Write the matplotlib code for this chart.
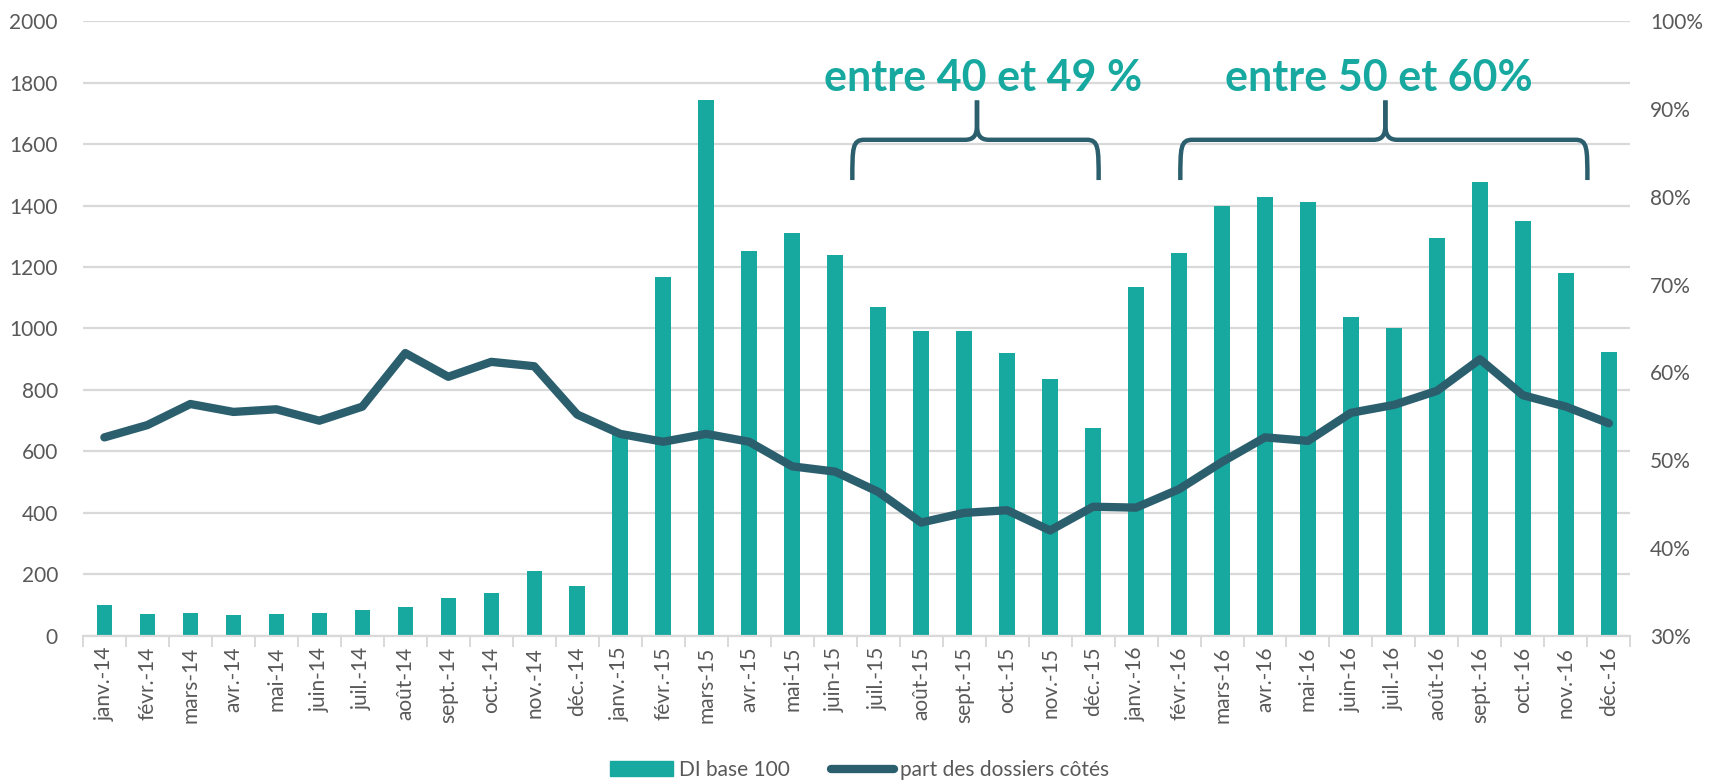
import matplotlib

matplotlib.use("Agg")
import matplotlib.pyplot as plt
from matplotlib.path import Path
from matplotlib.patches import PathPatch
from matplotlib.lines import Line2D
from matplotlib.ticker import FuncFormatter


# Month labels (janv.-14 .. déc.-16)
MONTHS = [
    "janv.-14", "févr.-14", "mars-14", "avr.-14", "mai-14", "juin-14",
    "juil.-14", "août-14", "sept.-14", "oct.-14", "nov.-14", "déc.-14",
    "janv.-15", "févr.-15", "mars-15", "avr.-15", "mai-15", "juin-15",
    "juil.-15", "août-15", "sept.-15", "oct.-15", "nov.-15", "déc.-15",
    "janv.-16", "févr.-16", "mars-16", "avr.-16", "mai-16", "juin-16",
    "juil.-16", "août-16", "sept.-16", "oct.-16", "nov.-16", "déc.-16",
]

# DI base 100 (left axis)
DI_BASE_100 = [
    100, 70, 74, 67, 71, 74, 83, 93, 122, 138, 212, 162,
    660, 1168, 1742, 1253, 1310, 1239, 1069, 991, 991, 920, 835, 676,
    1136, 1246, 1398, 1427, 1412, 1036, 1001, 1296, 1476, 1349, 1179, 924,
]

# part des dossiers côtés, in % (right axis)
PART_COTES = [
    52.6, 54.0, 56.4, 55.5, 55.8, 54.5, 56.1, 62.2, 59.5, 61.2, 60.7, 55.2,
    53.0, 52.1, 53.0, 52.1, 49.3, 48.7, 46.4, 42.9, 44.0, 44.3, 42.0, 44.7,
    44.6, 46.7, 49.8, 52.6, 52.2, 55.4, 56.3, 57.9, 61.5, 57.4, 56.1, 54.2,
]

BAR_LABEL = "DI base 100"
LINE_LABEL = "part des dossiers côtés"
BRACE_TEXTS = ["entre 40 et 49 %", "entre 50 et 60%"]

TEAL = "#17A9A0"
DARK = "#2B5F6E"
GRID = "#D9D9D9"
TEXT = "#595959"

plt.rcParams["font.family"] = ["Lato", "DejaVu Sans"]


def draw_brace(ax, x0, x1, xm, y_leg, y_top, y_tip):
    """Curly brace opening downward, tip pointing up at xm."""
    dx = 0.28
    dy = (y_top - y_leg) * 0.25
    for side in (-1, 1):
        xe = x0 if side == -1 else x1
        s = 1 if side == -1 else -1
        verts = [
            (xe, y_leg),
            (xe, y_leg + (y_top - y_leg) * 0.8),
            (xe, y_top),
            (xe + s * dx, y_top),
            (xm - s * dx, y_top),
            (xm - s * 0.05, y_top),
            (xm, y_top + dy * 0.6),
            (xm, y_top + dy * 1.5),
            (xm, y_tip),
        ]
        codes = [
            Path.MOVETO,
            Path.CURVE4, Path.CURVE4, Path.CURVE4,
            Path.LINETO,
            Path.CURVE4, Path.CURVE4, Path.CURVE4,
            Path.LINETO,
        ]
        ax.add_patch(PathPatch(Path(verts, codes), facecolor="none",
                               edgecolor=DARK, linewidth=3.2,
                               capstyle="butt", zorder=4))


fig = plt.figure(figsize=(17.09, 7.84), dpi=100)
ax = fig.add_axes([0.0485, 0.189, 0.9055, 0.784])
ax2 = ax.twinx()

x = list(range(len(MONTHS)))
ax.bar(x, DI_BASE_100, width=0.36, color=TEAL, zorder=2)
ax2.plot(x, PART_COTES, color=DARK, linewidth=6,
         solid_capstyle="round", solid_joinstyle="round", zorder=3)

ax.set_xlim(-0.5, len(MONTHS) - 0.5)
ax.set_ylim(0, 2000)
ax.set_yticks(range(0, 2001, 200))
ax2.set_ylim(30, 100)
ax2.set_yticks(range(30, 101, 10))
ax2.yaxis.set_major_formatter(FuncFormatter(lambda v, p: f"{v:.0f}%"))

ax.grid(axis="y", color=GRID, linewidth=1.6, zorder=0)
ax.set_axisbelow(True)

for a in (ax, ax2):
    for sp in a.spines.values():
        sp.set_visible(False)
ax.spines["bottom"].set_visible(True)
ax.spines["bottom"].set_color(GRID)
ax.spines["bottom"].set_linewidth(1.6)

ax.set_xticks(x)
ax.set_xticklabels(MONTHS, rotation=90, fontsize=15, color=TEXT)
ax.set_xticks([i - 0.5 for i in range(len(MONTHS) + 1)], minor=True)
ax.tick_params(axis="x", which="major", length=0, pad=8)
ax.tick_params(axis="x", which="minor", length=8, width=1.4, color=GRID)
ax.tick_params(axis="y", length=0, labelsize=15, labelcolor=TEXT, pad=18)
ax2.tick_params(axis="y", length=0, labelsize=15, labelcolor=TEXT, pad=14)

# braces and their labels
draw_brace(ax, 17.4, 23.13, 20.3, 1483, 1614, 1742)
draw_brace(ax, 25.03, 34.5, 29.8, 1483, 1614, 1742)
ax.text(20.45, 1815, BRACE_TEXTS[0], ha="center", va="center",
        fontsize=31, fontweight="bold", color=TEAL, zorder=5)
ax.text(29.65, 1815, BRACE_TEXTS[1], ha="center", va="center",
        fontsize=31, fontweight="bold", color=TEAL, zorder=5)

handles = [
    plt.Rectangle((0, 0), 1, 1, color=TEAL),
    Line2D([0], [0], color=DARK, linewidth=6, solid_capstyle="round"),
]
fig.legend(handles, [BAR_LABEL, LINE_LABEL], loc="center",
           bbox_to_anchor=(0.503, 0.018), ncol=2, frameon=False,
           fontsize=15, labelcolor=TEXT, handlelength=3.0,
           handletextpad=0.3, columnspacing=2.0)

fig.savefig("out.png", dpi=100)
